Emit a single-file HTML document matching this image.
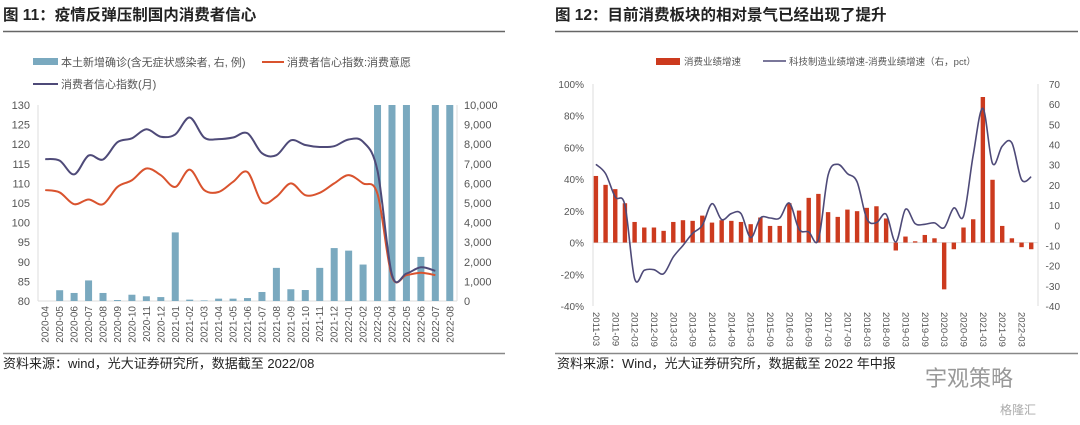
<!DOCTYPE html>
<html><head><meta charset="utf-8">
<style>
body{margin:0;background:#fff;width:1080px;height:420px;overflow:hidden;font-family:"Liberation Sans","Noto Sans CJK SC",sans-serif;}
svg text{font-family:"Liberation Sans","Noto Sans CJK SC",sans-serif;}
</style></head>
<body>
<svg id="s" width="1080" height="420" xmlns="http://www.w3.org/2000/svg">
<text x="3" y="20" font-size="15.5" font-weight="bold" fill="#222">图 11：疫情反弹压制国内消费者信心</text>
<line x1="3" y1="31.5" x2="505" y2="31.5" stroke="#666" stroke-width="1.5"/>
<text x="555" y="20" font-size="15.5" font-weight="bold" fill="#222">图 12：目前消费板块的相对景气已经出现了提升</text>
<line x1="555" y1="31.5" x2="1078" y2="31.5" stroke="#666" stroke-width="1.5"/>
<line x1="3" y1="353.5" x2="505" y2="353.5" stroke="#888" stroke-width="1.5"/>
<line x1="555" y1="353.5" x2="1078" y2="353.5" stroke="#888" stroke-width="1.5"/>
<text x="3" y="368" font-size="13" fill="#222">资料来源：wind，光大证券研究所，数据截至 2022/08</text>
<text x="557" y="368" font-size="13" fill="#222">资料来源：Wind，光大证券研究所，数据截至 2022 年中报</text>
<text x="925" y="386" font-size="22" fill="#999">宇观策略</text>
<text x="1000" y="414" font-size="12" fill="#aaa">格隆汇</text>
<!-- legends -->
<rect x="33" y="58" width="25" height="7" fill="#7aa9bf"/>
<text x="61" y="66" font-size="11" fill="#555">本土新增确诊(含无症状感染者, 右, 例)</text>
<line x1="262" y1="62" x2="284" y2="62" stroke="#d9532e" stroke-width="2"/>
<text x="287" y="66" font-size="11" fill="#555">消费者信心指数:消费意愿</text>
<line x1="33" y1="84" x2="58" y2="84" stroke="#4e4a78" stroke-width="2"/>
<text x="61" y="88" font-size="11" fill="#555">消费者信心指数(月)</text>
<rect x="656" y="58" width="24" height="7" fill="#cc3a1e"/>
<text x="684" y="65" font-size="9.5" fill="#555">消费业绩增速</text>
<line x1="763" y1="61" x2="786" y2="61" stroke="#4e4a78" stroke-width="1.5"/>
<text x="789" y="65" font-size="9.5" fill="#555">科技制造业绩增速-消费业绩增速（右，pct）</text>
<g id="L"></g><g id="R"></g>
</svg>
<script>
const months=["2020-04","2020-05","2020-06","2020-07","2020-08","2020-09","2020-10","2020-11","2020-12","2021-01","2021-02","2021-03","2021-04","2021-05","2021-06","2021-07","2021-08","2021-09","2021-10","2021-11","2021-12","2022-01","2022-02","2022-03","2022-04","2022-05","2022-06","2022-07","2022-08"];
const cases=[0,550,410,1050,410,50,320,240,200,3500,70,30,120,120,150,460,1690,600,560,1690,2700,2570,1860,10000,10000,10000,2250,10000,10000];
const confidence=[116.2,115.8,112.3,117.1,116.1,120.5,121.5,123.8,121.9,122.5,126.8,121.7,121.3,121.7,122.8,117.7,117.2,121,119.8,119.3,119.5,121.2,120.6,113.2,86.7,87.0,88.6,87.7];
const willingness=[108.3,107.7,104.7,105.9,104.7,109.1,110.8,113.8,112.1,109.1,113.5,108.3,107.8,110.4,112.9,105.2,106.6,110,107,107.6,110,112.1,110,107.3,86.2,86.6,87.2,86.6];
const leftTicks=[80,85,90,95,100,105,110,115,120,125,130];
const rightTicks=[0,1000,2000,3000,4000,5000,6000,7000,8000,9000,10000];

const quarters=[];for(let y=2011;y<=2022;y++)for(const m of["03","06","09","12"]){const q=y+"-"+m;if(q<="2022-06")quarters.push(q);}
const consumerGrowth=[42,36.4,33.7,24.8,13,9.5,9.5,7.4,13,14.1,13.7,17,12.6,14.1,13.7,13,11.6,15.8,10.5,10.5,24.8,20.2,28.2,30.7,19.2,16.2,20.8,19.8,21.9,22.9,15.2,-5,3.8,0.8,4.8,2.7,-29.5,-4.2,9.5,14.7,91.8,39.6,10.5,2.7,-2.9,-4.2];
const techMinusConsumer=[30.2,25.6,14,10,-26.4,-22.3,-22,-24,-15.7,-10,-4,0,10.7,2.8,5.8,5.8,-6.1,3.6,3.6,3.6,11,-2,-3.3,-7.1,24.8,30.2,25.6,21.5,3.3,1.3,5.5,-8.3,7.9,0.8,0.5,1.2,-1.2,8.6,4.5,34.7,57.9,30.6,39.2,40.8,22.6,24];
const pctTicks=[-40,-20,0,20,40,60,80,100];
const pctRightTicks=[-40,-30,-20,-10,0,10,20,30,40,50,60,70];

const NS="http://www.w3.org/2000/svg";
function mk(p,t,a,txt){const e=document.createElementNS(NS,t);for(const k in a)e.setAttribute(k,a[k]);if(txt!=null)e.textContent=txt;p.appendChild(e);return e;}
function smooth(pts){let d="M"+pts[0][0]+","+pts[0][1];for(let i=0;i<pts.length-1;i++){const p0=pts[i-1]||pts[i],p1=pts[i],p2=pts[i+1],p3=pts[i+2]||p2;const t=6;d+=" C"+(p1[0]+(p2[0]-p0[0])/t)+","+(p1[1]+(p2[1]-p0[1])/t)+" "+(p2[0]-(p3[0]-p1[0])/t)+","+(p2[1]-(p3[1]-p1[1])/t)+" "+p2[0]+","+p2[1];}return d;}

// LEFT
(function(){
const g=document.getElementById("L");
const x0=38,x1=457,yT=105,yB=301;
const bw=(x1-x0)/months.length;
const xc=i=>x0+bw*(i+0.5);
const yl=v=>yB-(v-80)/50*(yB-yT);
const yr=v=>yB-v/10000*(yB-yT);
let e=mk(g,"line",{x1:x0,y1:yT,x2:x0,y2:yB,stroke:"#ddd"});


e=mk(g,"line",{x1:x1,y1:yT,x2:x1,y2:yB,stroke:"#ddd"});


e=mk(g,"line",{x1:x0,y1:yB,x2:x1,y2:yB,stroke:"#ddd"});


leftTicks.forEach(v=>{const t=mk(g,"text",{x:30,y:yl(v)+4,"font-size":11,fill:"#555","text-anchor":"end"},v);

});
rightTicks.forEach(v=>{const t=mk(g,"text",{x:464,y:yr(v)+4,"font-size":11,fill:"#555"},v.toLocaleString("en-US"));

});
cases.forEach((v,i)=>{const h=yB-yr(Math.min(v,10000));const r=mk(g,"rect",{x:xc(i)-3.5,y:yB-h,width:7,height:h,fill:"#7aa9bf"});

});
months.forEach((m,i)=>{const t=mk(g,"text",{x:0,y:0,"font-size":10,fill:"#555","text-anchor":"end",transform:"translate("+(xc(i)+3.5)+",306) rotate(-90)"},m);

});
let p=mk(g,"path",{d:smooth(willingness.map((v,i)=>[xc(i),yl(v)])),fill:"none",stroke:"#d9532e","stroke-width":2});


p=mk(g,"path",{d:smooth(confidence.map((v,i)=>[xc(i),yl(v)])),fill:"none",stroke:"#4e4a78","stroke-width":2});


})();

// RIGHT
(function(){
const g=document.getElementById("R");
const x0=593,x1=1038,yT=84,yB=306;
const bw=(x1-x0)/quarters.length;
const xc=i=>x0+bw*(i+0.3);
const yl=v=>yB-(v+40)/140*(yB-yT);
const yr=v=>yB-(v+40)/110*(yB-yT);
let e=mk(g,"line",{x1:x0,y1:yT,x2:x0,y2:yB,stroke:"#ddd"});


e=mk(g,"line",{x1:x1,y1:yT,x2:x1,y2:yB,stroke:"#ddd"});


e=mk(g,"line",{x1:x0,y1:yl(0),x2:x1,y2:yl(0),stroke:"#ddd"});


pctTicks.forEach(v=>{const t=mk(g,"text",{x:584,y:yl(v)+4,"font-size":10,fill:"#555","text-anchor":"end"},v+"%");

});
pctRightTicks.forEach(v=>{const t=mk(g,"text",{x:1060,y:yr(v)+4,"font-size":10,fill:"#555","text-anchor":"end"},v);

});
consumerGrowth.forEach((v,i)=>{const y=yl(Math.max(v,0)),h=Math.abs(yl(v)-yl(0));const r=mk(g,"rect",{x:xc(i)-2.2,y:y,width:4.4,height:h,fill:"#cc3a1e"});

});
quarters.forEach((q,i)=>{if(i%2||q>"2022-03")return;const t=mk(g,"text",{x:0,y:0,"font-size":9.5,fill:"#555",transform:"translate("+(xc(i)-3)+",312) rotate(90)"},q);

});
const p=mk(g,"path",{d:smooth(techMinusConsumer.map((v,i)=>[xc(i),yr(v)])),fill:"none",stroke:"#4e4a78","stroke-width":1.6});


})();
</script>
</body></html>
